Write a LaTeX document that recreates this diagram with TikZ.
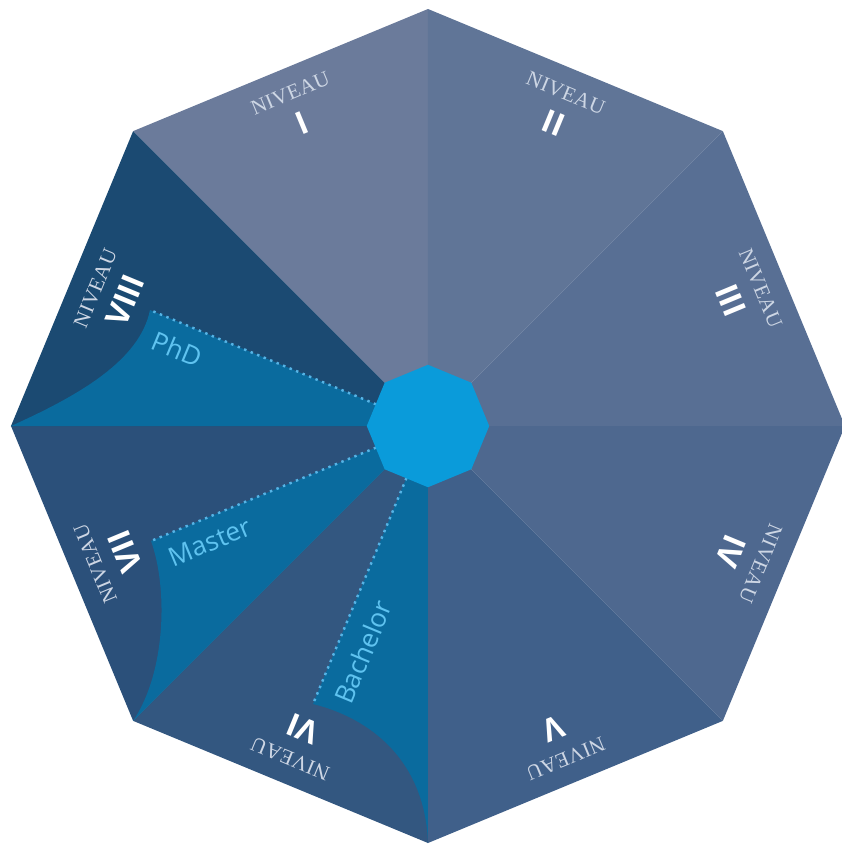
\documentclass[tikz,border=0pt]{standalone}
\usepackage{fontspec}
\setmainfont{Liberation Serif}
\setsansfont{Open Sans}
\usetikzlibrary{shapes.geometric}
\definecolor{NiveauOne}{RGB}{107,123,155}
\definecolor{NiveauTwo}{RGB}{96,117,151}
\definecolor{NiveauThree}{RGB}{88,111,148}
\definecolor{NiveauFour}{RGB}{78,104,143}
\definecolor{NiveauFive}{RGB}{64,96,138}
\definecolor{NiveauSix}{RGB}{51,87,128}
\definecolor{NiveauSeven}{RGB}{43,80,122}
\definecolor{NiveauEight}{RGB}{27,74,114}
\definecolor{DegreeFold}{RGB}{10,107,158}
\definecolor{HubBlue}{RGB}{10,155,218}
\definecolor{TrackDots}{RGB}{85,180,230}
\definecolor{DegreeText}{RGB}{95,195,240}
\definecolor{NiveauText}{RGB}{205,214,228}

\begin{document}
\begin{tikzpicture}[x=0.02cm,y=0.02cm,
    niveau/.style={text=NiveauText,inner sep=0pt,
        font=\fontsize{12}{12}\selectfont\addfontfeatures{LetterSpace=2}},
    numeral/.style={text=white,inner sep=0pt,font=\sffamily\bfseries\fontsize{18}{18}\selectfont},
    degree/.style={text=DegreeText,inner sep=0pt,font=\sffamily\fontsize{15}{15}\selectfont},
    track/.style={draw=TrackDots,line width=1.4pt,dash pattern=on 1.4pt off 2.6pt},
    hubshape/.style={regular polygon,regular polygon sides=8,shape border rotate=22.5,
        fill=HubBlue,minimum size=2.45cm,inner sep=0pt}]
  \useasboundingbox (-428,-420) rectangle (414,426);
  \coordinate (hub) at (0,0);

  % umbrella panels
  \fill[NiveauOne]   (hub) -- (90:417)  -- (135:417) -- cycle;
  \fill[NiveauTwo]   (hub) -- (45:417)  -- (90:417)  -- cycle;
  \fill[NiveauThree] (hub) -- (0:417)   -- (45:417)  -- cycle;
  \fill[NiveauFour]  (hub) -- (-45:417) -- (0:417)   -- cycle;
  \fill[NiveauFive]  (hub) -- (-90:417) -- (-45:417) -- cycle;
  \fill[NiveauSix]   (hub) -- (-135:417) -- (-90:417) -- cycle;
  \fill[NiveauSeven] (hub) -- (180:417) -- (225:417) -- cycle;
  \fill[NiveauEight] (hub) -- (135:417) -- (180:417) -- cycle;

  % degree folds
  \coordinate (phd) at (-278,116);
  \coordinate (master) at (-277,-115);
  \coordinate (bachelor) at (-115,-278);
  \fill[DegreeFold] (hub) -- (phd) .. controls (-288,66) and (-348,31) .. (180:417) -- cycle;
  \fill[DegreeFold] (hub) -- (master) .. controls (-260,-162) and (-262,-246) .. (225:417) -- cycle;
  \fill[DegreeFold] (hub) -- (bachelor) .. controls (-58,-292) and (-3,-334) .. (270:417) -- cycle;
  \draw[track] (hub) -- (phd);
  \draw[track] (hub) -- (master);
  \draw[track] (hub) -- (bachelor);

  \node[hubshape] (core) at (hub) {};

  \node[degree,rotate=-22.6] (phdlabel) at (-251,77) {PhD};
  \node[degree,rotate=22.6] (masterlabel) at (-218,-116) {Master};
  \node[degree,rotate=67.4] (bachelorlabel) at (-65,-226) {Bachelor};

  % level labels
  \node[niveau,rotate=22.5]   (n1) at (112.5:360) {NIVEAU};
  \node[numeral,rotate=22.5]  (r1) at (112.5:328) {I};
  \node[niveau,rotate=-22.5]  (n2) at (67.5:360) {NIVEAU};
  \node[numeral,rotate=-22.5] (r2) at (67.5:328) {II};
  \node[niveau,rotate=-67.5]  (n3) at (22.5:360) {NIVEAU};
  \node[numeral,rotate=-67.5] (r3) at (22.5:328) {III};
  \node[niveau,rotate=-112.5] (n4) at (-22.5:360) {NIVEAU};
  \node[numeral,rotate=-112.5] (r4) at (-22.5:328) {IV};
  \node[niveau,rotate=-157.5] (n5) at (-67.5:360) {NIVEAU};
  \node[numeral,rotate=-157.5] (r5) at (-67.5:328) {V};
  \node[niveau,rotate=157.5]  (n6) at (-112.5:360) {NIVEAU};
  \node[numeral,rotate=157.5] (r6) at (-112.5:328) {VI};
  \node[niveau,rotate=112.5]  (n7) at (202.5:360) {NIVEAU};
  \node[numeral,rotate=112.5] (r7) at (202.5:328) {VII};
  \node[niveau,rotate=67.5]   (n8) at (157.5:360) {NIVEAU};
  \node[numeral,rotate=67.5]  (r8) at (157.5:328) {VIII};
\end{tikzpicture}
\end{document}
